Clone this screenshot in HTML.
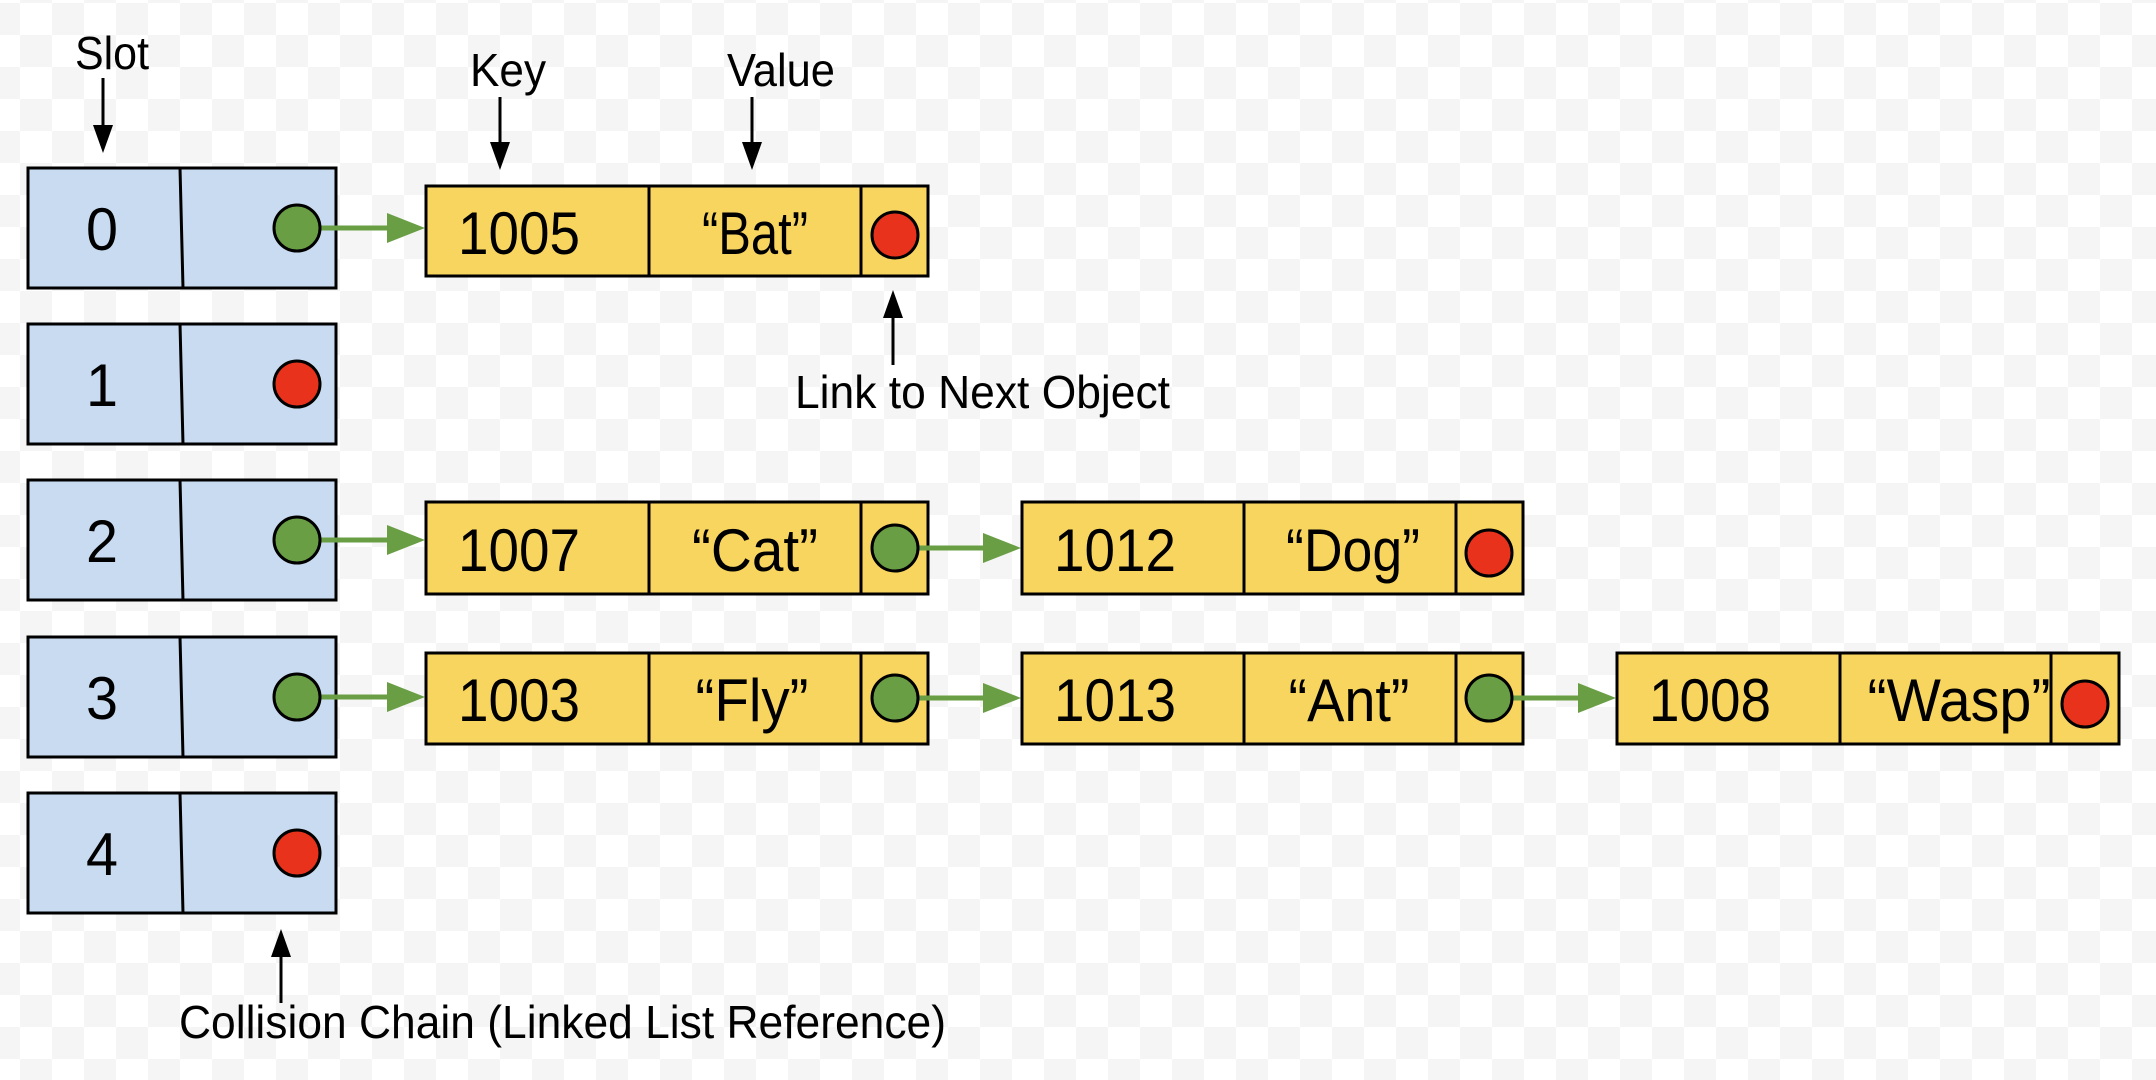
<!DOCTYPE html>
<html><head><meta charset="utf-8"><style>
html,body{margin:0;padding:0;width:2156px;height:1080px;overflow:hidden;background:#fff}
svg{display:block}
text{font-family:"Liberation Sans",Arial,sans-serif;fill:#000}
</style></head><body>
<svg width="2156" height="1080" viewBox="0 0 2156 1080" xmlns="http://www.w3.org/2000/svg">
<defs>
<pattern id="chk" x="20" y="3" width="64" height="64" patternUnits="userSpaceOnUse">
<rect width="64" height="64" fill="#ffffff"/>
<rect x="32" y="0" width="32" height="32" fill="#f5f5f5"/>
<rect x="0" y="32" width="32" height="32" fill="#f5f5f5"/>
</pattern>
</defs>
<rect width="2156" height="1080" fill="url(#chk)"/>

<g stroke="#000" stroke-width="3">
<g fill="#c9dbf0">
<rect x="28" y="168" width="308" height="120"/>
<rect x="28" y="324" width="308" height="120"/>
<rect x="28" y="480" width="308" height="120"/>
<rect x="28" y="637" width="308" height="120"/>
<rect x="28" y="793" width="308" height="120"/>
</g>
<line x1="180" y1="168" x2="183" y2="288"/>
<line x1="180" y1="324" x2="183" y2="444"/>
<line x1="180" y1="480" x2="183" y2="600"/>
<line x1="180" y1="637" x2="183" y2="757"/>
<line x1="180" y1="793" x2="183" y2="913"/>
<g fill="#f7d55f">
<rect x="426" y="186" width="502" height="90"/>
<rect x="426" y="502" width="502" height="92"/>
<rect x="1022" y="502" width="501" height="92"/>
<rect x="426" y="653" width="502" height="91"/>
<rect x="1022" y="653" width="501" height="91"/>
<rect x="1617" y="653" width="502" height="91"/>
</g>
<line x1="649" y1="186" x2="649" y2="276"/><line x1="861" y1="186" x2="861" y2="276"/>
<line x1="649" y1="502" x2="649" y2="594"/><line x1="861" y1="502" x2="861" y2="594"/>
<line x1="1244" y1="502" x2="1244" y2="594"/><line x1="1456" y1="502" x2="1456" y2="594"/>
<line x1="649" y1="653" x2="649" y2="744"/><line x1="861" y1="653" x2="861" y2="744"/>
<line x1="1244" y1="653" x2="1244" y2="744"/><line x1="1456" y1="653" x2="1456" y2="744"/>
<line x1="1840" y1="653" x2="1840" y2="744"/><line x1="2051" y1="653" x2="2051" y2="744"/>
</g>

<g stroke="#6a9e44" stroke-width="5">
<line x1="320" y1="228" x2="390" y2="228"/>
<line x1="320" y1="540" x2="390" y2="540"/>
<line x1="320" y1="697" x2="390" y2="697"/>
<line x1="918" y1="548" x2="986" y2="548"/>
<line x1="918" y1="698" x2="986" y2="698"/>
<line x1="1512" y1="698" x2="1580" y2="698"/>
</g>
<g fill="#6a9e44">
<polygon points="425,228 387,213 387,243"/>
<polygon points="425,540 387,525 387,555"/>
<polygon points="425,697 387,682 387,712"/>
<polygon points="1021,548 983,533 983,563"/>
<polygon points="1021,698 983,683 983,713"/>
<polygon points="1616,698 1578,683 1578,713"/>
</g>

<g stroke="#000" stroke-width="3">
<circle cx="297" cy="228" r="23" fill="#6a9e44"/>
<circle cx="297" cy="384" r="23" fill="#e8321b"/>
<circle cx="297" cy="540" r="23" fill="#6a9e44"/>
<circle cx="297" cy="697" r="23" fill="#6a9e44"/>
<circle cx="297" cy="853" r="23" fill="#e8321b"/>
<circle cx="895" cy="235" r="23" fill="#e8321b"/>
<circle cx="895" cy="548" r="23" fill="#6a9e44"/>
<circle cx="1489" cy="553" r="23" fill="#e8321b"/>
<circle cx="895" cy="698" r="23" fill="#6a9e44"/>
<circle cx="1489" cy="698" r="23" fill="#6a9e44"/>
<circle cx="2085" cy="704" r="23" fill="#e8321b"/>
</g>

<g stroke="#000" stroke-width="3">
<line x1="103" y1="78" x2="103" y2="130"/>
<line x1="500" y1="97" x2="500" y2="148"/>
<line x1="752" y1="97" x2="752" y2="148"/>
<line x1="893" y1="365" x2="893" y2="312"/>
<line x1="281" y1="1003" x2="281" y2="952"/>
</g>
<g fill="#000">
<polygon points="103,153 93,125 113,125"/>
<polygon points="500,170 490,142 510,142"/>
<polygon points="752,170 742,142 762,142"/>
<polygon points="893,290 883,318 903,318"/>
<polygon points="281,929 271,957 291,957"/>
</g>

<g font-size="46">
<text x="75" y="69" textLength="74" lengthAdjust="spacingAndGlyphs">Slot</text>
<text x="470" y="86" textLength="76" lengthAdjust="spacingAndGlyphs">Key</text>
<text x="727" y="86" textLength="108" lengthAdjust="spacingAndGlyphs">Value</text>
<text x="795" y="408" textLength="375" lengthAdjust="spacingAndGlyphs">Link to Next Object</text>
<text x="179" y="1038" textLength="767" lengthAdjust="spacingAndGlyphs">Collision Chain (Linked List Reference)</text>
</g>
<g font-size="60" text-anchor="middle">
<text x="102" y="250" textLength="32" lengthAdjust="spacingAndGlyphs">0</text>
<text x="102" y="406" textLength="32" lengthAdjust="spacingAndGlyphs">1</text>
<text x="102" y="562" textLength="32" lengthAdjust="spacingAndGlyphs">2</text>
<text x="102" y="719" textLength="32" lengthAdjust="spacingAndGlyphs">3</text>
<text x="102" y="875" textLength="32" lengthAdjust="spacingAndGlyphs">4</text>
</g>
<g font-size="60">
<text x="458" y="254" textLength="122" lengthAdjust="spacingAndGlyphs">1005</text>
<text x="458" y="571" textLength="122" lengthAdjust="spacingAndGlyphs">1007</text>
<text x="458" y="721" textLength="122" lengthAdjust="spacingAndGlyphs">1003</text>
<text x="1054" y="571" textLength="122" lengthAdjust="spacingAndGlyphs">1012</text>
<text x="1054" y="721" textLength="122" lengthAdjust="spacingAndGlyphs">1013</text>
<text x="1649" y="721" textLength="122" lengthAdjust="spacingAndGlyphs">1008</text>
</g>
<g font-size="60" text-anchor="middle">
<text x="755" y="254" textLength="106" lengthAdjust="spacingAndGlyphs">“Bat”</text>
<text x="755" y="571" textLength="126" lengthAdjust="spacingAndGlyphs">“Cat”</text>
<text x="752" y="721" textLength="113" lengthAdjust="spacingAndGlyphs">“Fly”</text>
<text x="1353" y="571" textLength="134" lengthAdjust="spacingAndGlyphs">“Dog”</text>
<text x="1349" y="721" textLength="121" lengthAdjust="spacingAndGlyphs">“Ant”</text>
<text x="1959" y="721" textLength="183" lengthAdjust="spacingAndGlyphs">“Wasp”</text>
</g>
</svg>
</body></html>
